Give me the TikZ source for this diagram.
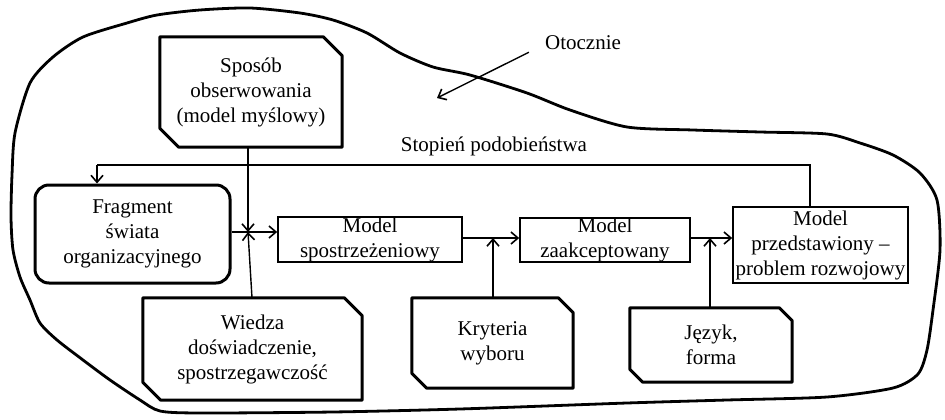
\documentclass[tikz,border=0pt]{standalone}
\usepackage{fontspec}
\setmainfont{Liberation Serif}
\usetikzlibrary{calc,arrows.meta}

% outline of a box with cut top-right and bottom-left corners
\newcommand{\cutframe}[2]{%
  \draw[thickframe] (#1.north west) -- ($(#1.north east)+(-#2,0)$)
    -- ($(#1.north east)+(0,#2)$) -- (#1.south east)
    -- ($(#1.south west)+(#2,0)$) -- ($(#1.south west)+(0,-#2)$) -- cycle;}

\begin{document}
\begin{tikzpicture}[x=1pt,y=-1pt,
  txt/.style={font=\fontsize{21}{25}\selectfont, align=center, inner sep=0pt},
  thickframe/.style={line width=3pt, line join=round},
  cutbox/.style={txt, rectangle, draw=none},
  roundbox/.style={txt, rectangle, draw, line width=3pt, rounded corners=14pt},
  thinbox/.style={txt, rectangle, draw, line width=1.6pt},
  conn/.style={line width=1.4pt, -{Straight Barb[length=7pt,width=12pt,line width=1.6pt]}},
  plain/.style={line width=1.4pt},
  blob/.style={line width=2.8pt, line join=round}]
\useasboundingbox (0,0) rectangle (945,420);

% environment outline
\draw[blob] plot[smooth cycle, tension=0.45] coordinates {
  (15,133) (30,83) (53,57) (83,37) (127,23) (157,15) (200,10) (250,8)
  (300,13) (333,20) (367,33) (400,53) (433,67) (470,75) (527,93)
  (570,110) (627,127) (693,130) (760,132) (827,134) (860,143) (893,155)
  (920,173) (937,200) (940,250) (933,310) (927,350) (918,374) (893,388)
  (827,397) (727,400) (627,403) (460,409) (333,412) (200,413) (160,411)
  (140,400) (110,380) (83,360) (57,340) (40,323) (30,300) (20,277)
  (13,250) (11,217) (12,175)};

% boxes
\node[cutbox, minimum width=182pt, minimum height=110pt] (sposob) at (251,92)
  {Sposób\\obserwowania\\(model myślowy)};
\cutframe{sposob}{19}
\node[roundbox, minimum width=195pt, minimum height=98pt] (frag) at (132.5,234)
  {Fragment\\świata\\organizacyjnego};
\node[thinbox, minimum width=184pt, minimum height=45pt] (ms) at (370,239.5)
  {Model\\spostrzeżeniowy};
\node[thinbox, minimum width=170pt, minimum height=44pt] (mz) at (605,240)
  {Model\\zaakceptowany};
\node[thinbox, minimum width=175pt, minimum height=76pt] (mp) at (820.5,245)
  {Model\\przedstawiony –\\problem rozwojowy};
\node[cutbox, minimum width=219pt, minimum height=102pt] (wiedza) at (252.5,349)
  {Wiedza\\doświadczenie,\\spostrzegawczość};
\cutframe{wiedza}{18}
\node[cutbox, minimum width=161pt, minimum height=90pt] (kr) at (492.5,343)
  {Kryteria\\wyboru};
\cutframe{kr}{15}
\node[cutbox, minimum width=162pt, minimum height=74pt] (jz) at (711,345)
  {Język,\\forma};
\cutframe{jz}{13}

% labels
\node[txt] (otoczenie) at (583,43) {Otocznie};
\node[txt] (stopien) at (494,146) {Stopień podobieństwa};

% junction points
\coordinate (j1) at (248,232);
\coordinate (j2) at (493,238);
\coordinate (j3) at (710,238);
\coordinate (fbR) at (810,165);
\coordinate (fbL) at (97,165);
\coordinate (envtip) at (437,98);

% main chain
\draw[conn] (frag.east |- j1) -- (ms.west |- j1);
\draw[conn] (sposob.south -| j1) -- (j1);
\draw[conn] ($(wiedza.north)+(-0.5,0)$) -- (j1);
\draw[conn] (ms.east |- j2) -- (mz.west |- j2);
\draw[conn] (kr.north -| j2) -- (j2);
\draw[conn] (mz.east |- j3) -- (mp.west |- j3);
\draw[conn] (jz.north -| j3) -- (j3);

% feedback loop
\draw[plain] (mp.north -| fbR) -- (fbR) -- (fbL);
\draw[conn] (fbL) -- (fbL |- frag.north);

% pointer to the environment
\draw[conn] ($(otoczenie.south west)+(-16,2)$) -- (envtip);
\end{tikzpicture}
\end{document}
